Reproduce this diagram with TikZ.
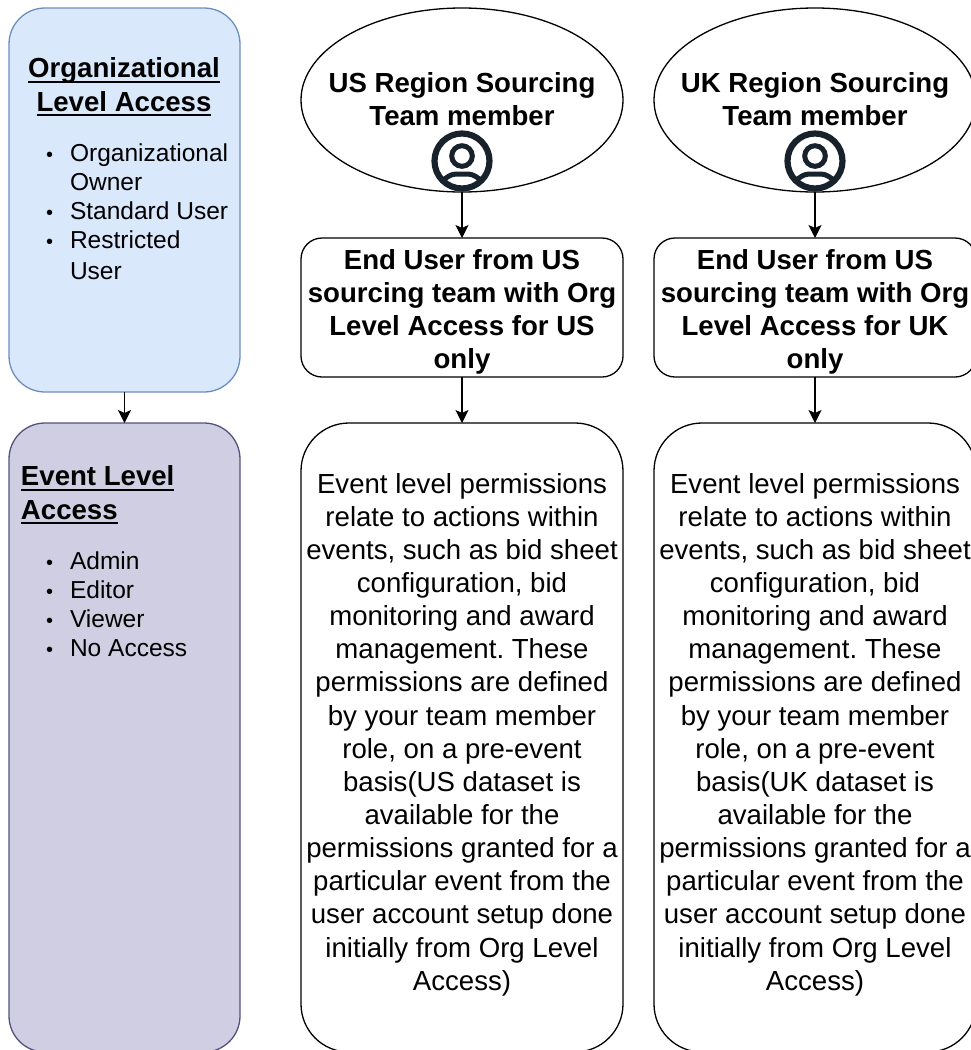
\documentclass[tikz,border=0pt]{standalone}
\usepackage{fontspec}
\setmainfont{Liberation Sans}
\usetikzlibrary{shapes.geometric,arrows.meta}
\definecolor{orgfill}{HTML}{DAE8FC}
\definecolor{orgline}{HTML}{6C8EBF}
\definecolor{evfill}{HTML}{D0CEE2}
\definecolor{evline}{HTML}{56517E}
\definecolor{icondark}{HTML}{18222C}
\def\px{0.75pt}
\newcommand{\bigfont}{\fontsize{20.7}{24.85}\selectfont\frenchspacing}
\newcommand{\listfont}{\fontsize{18.4}{21.8}\selectfont}
\newcommand{\bul}{{\fontsize{15}{15}\selectfont\raisebox{0pt}{•}}}
\newcommand{\ulineb}[1]{\setbox0\hbox{#1}\rlap{\vrule width \wd0 height -2.4pt depth 3.7pt}\box0}
\tikzset{
  every node/.style={inner sep=0pt,outer sep=0pt},
  panel/.style={rectangle,rounded corners=36*\px,line width=1.3*\px,minimum width=231*\px},
  orgpanel/.style={panel,draw=orgline,fill=orgfill,minimum height=384*\px},
  evpanel/.style={panel,draw=evline,fill=evfill,minimum height=629*\px},
  person/.style={ellipse,draw=black,fill=white,line width=1.3*\px,minimum width=322*\px,minimum height=184*\px},
  enduser/.style={rectangle,draw=black,fill=white,line width=1.3*\px,rounded corners=21*\px,minimum width=322*\px,minimum height=139*\px},
  detail/.style={rectangle,draw=black,fill=white,line width=1.3*\px,rounded corners=48*\px,minimum width=322*\px,minimum height=629*\px},
  headtext/.style={font=\bigfont\bfseries,align=center},
  bodytext/.style={font=\bigfont,align=center},
  listtext/.style={font=\listfont,anchor=north west},
  conn/.style={draw=black,line width=1.3*\px,-{Stealth[length=13*\px,width=13*\px,inset=3*\px]}},
}
\newcommand{\usericon}[1]{%
  \begin{scope}[shift={(#1)}]
    \draw[icondark,line width=6.2*\px,fill=white] (0,0) circle[radius=27.5];
    \draw[icondark,line width=5*\px] (0,-5) circle[radius=10.3];
    \begin{scope}
      \clip (0,0) circle[radius=27.5];
      \draw[icondark,line width=5*\px] (-25,27) .. controls (-18,16) and (-10,13) .. (-6,13) -- (6,13) .. controls (10,13) and (18,16) .. (25,27);
    \end{scope}
  \end{scope}}
\newcommand{\detailtext}[1]{Event level permissions\\relate to actions within\\events, such as bid sheet\\configuration, bid\\monitoring and award\\management. These\\permissions are defined\\by your team member\\role, on a pre-event\\basis(#1 dataset is\\available for the\\permissions granted for a\\particular event from the\\user account setup done\\initially from Org Level\\Access)}
\begin{document}
\begin{tikzpicture}[x=0.75pt,y=-0.75pt]
\useasboundingbox (0,0) rectangle (971,1050);
\clip (0,0) rectangle (971,1050);
% left panels
\node[orgpanel] (org) at (124.5,200) {};
\node[evpanel] (event) at (124.5,737.5) {};
\node[headtext] (orgtitle) at (124,87) {\ulineb{Organizational}\\\ulineb{Level Access}};
\node[listtext] (orglist) at (46,141) {\begin{tabular}{@{}l@{\hspace{12.75pt}}l@{}}
\bul & Organizational\\
 & Owner\\
\bul & Standard User\\
\bul & Restricted\\[1.2pt]
 & User
\end{tabular}};
\node[headtext,anchor=west,align=left] (evtitle) at (21,495) {\ulineb{Event Level}\\\ulineb{Access}};
\node[listtext] (evlist) at (46,549) {\begin{tabular}{@{}l@{\hspace{12.75pt}}l@{}}
\bul & Admin\\
\bul & Editor\\
\bul & Viewer\\
\bul & No Access
\end{tabular}};
% US column
\node[person] (usp) at (462,100) {};
\node[headtext] (usptext) at (462,99) {US Region Sourcing\\Team member};
\node[enduser] (usend) at (462,307.5) {};
\node[headtext] (usendtext) at (462,312) {End User from US\\sourcing team with Org\\Level Access for US\\only};
\node[detail] (usdet) at (462,737.5) {};
\node[bodytext] (usdettext) at (462,734.5) {\detailtext{US}};
% UK column
\node[person] (ukp) at (815,100) {};
\node[headtext] (ukptext) at (815,99) {UK Region Sourcing\\Team member};
\node[enduser] (ukend) at (815,307.5) {};
\node[headtext] (ukendtext) at (815,312) {End User from US\\sourcing team with Org\\Level Access for UK\\only};
\node[detail] (ukdet) at (815,737.5) {};
\node[bodytext] (ukdettext) at (815,734.5) {\detailtext{UK}};
% icons
\usericon{462,161}
\usericon{815,161}
% connectors
\draw[conn] (org.south) -- (event.north);
\draw[conn] (usp.south) -- (usend.north);
\draw[conn] (usend.south) -- (usdet.north);
\draw[conn] (ukp.south) -- (ukend.north);
\draw[conn] (ukend.south) -- (ukdet.north);
\end{tikzpicture}
\end{document}
